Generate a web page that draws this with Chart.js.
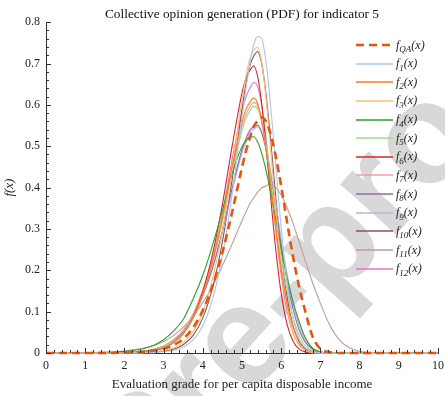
<!DOCTYPE html>
<html>
<head>
<meta charset="utf-8">
<script src="https://cdn.jsdelivr.net/npm/chart.js@4.4.0/dist/chart.umd.min.js"></script>
<style>
  html, body { margin: 0; padding: 0; background: #fff; }
  #wrap { position: relative; width: 445px; height: 396px; }
  #legend { position: absolute; left: 356px; top: 35.7px; font-family: 'Liberation Serif', 'Times New Roman', serif; font-style: italic; font-size: 12px; color: #222; }
  .row { height: 18.65px; display: flex; align-items: center; white-space: nowrap; }
  .row svg { margin-right: 3px; flex: none; }
  .row .sub { font-size: 9px; position: relative; top: 4px; }
</style>
</head>
<body>
<div id="wrap">
  <canvas id="chartPdf" width="445" height="396"></canvas>
  <div id="legend"></div>
</div>
<script>
// evaluation grades where the curves are sampled
var X = [0, 1, 1.5, 2, 2.5, 2.75, 3, 3.25, 3.5, 3.75, 4, 4.25, 4.5, 4.75, 5, 5.1, 5.2, 5.3, 5.4, 5.5, 5.6, 5.7, 5.85, 6, 6.15, 6.3, 6.45, 6.6, 6.8, 7, 7.25, 7.5, 7.75, 8, 8.5, 9, 10];

// density values
var fQA = [0,0,0,.001,.003,.006,.010,.019,.034,.061,.103,.163,.243,.341,.449,.488,.520,.548,.561,.570,.562,.539,.481,.403,.317,.234,.163,.106,.040,.010,.002,0,0,0,0,0,0];
var f1  = [0,0,0,0,.001,.001,.003,.006,.014,.031,.066,.131,.235,.385,.571,.639,.699,.746,.765,.761,.713,.629,.467,.302,.172,.085,.037,.014,.003,.001,0,0,0,0,0,0,0];
var f2  = [0,0,0,.001,.004,.007,.013,.025,.047,.083,.141,.221,.326,.452,.558,.589,.606,.617,.603,.563,.503,.429,.311,.204,.120,.064,.031,.013,.004,.001,0,0,0,0,0,0,0];
var f3  = [0,0,0,0,.001,.003,.006,.012,.025,.051,.099,.180,.295,.447,.613,.669,.712,.732,.740,.704,.629,.528,.361,.215,.111,.050,.019,.007,.001,0,0,0,0,0,0,0,0];
var f4  = [0,0,.001,.004,.011,.019,.032,.053,.081,.130,.188,.261,.345,.434,.499,.513,.522,.523,.510,.484,.447,.403,.329,.253,.183,.125,.078,.040,.012,.003,0,0,0,0,0,0,0];
var f5  = [0,0,0,.001,.004,.008,.016,.027,.049,.085,.141,.218,.318,.435,.538,.567,.585,.597,.590,.560,.511,.448,.341,.237,.151,.088,.045,.020,.005,.001,0,0,0,0,0,0,0];
var f6  = [0,0,0,.001,.004,.007,.012,.025,.047,.087,.149,.240,.359,.501,.629,.664,.683,.694,.668,.605,.514,.410,.260,.144,.069,.029,.010,.003,0,0,0,0,0,0,0,0,0];
var f7  = [0,0,0,.002,.005,.009,.017,.032,.055,.095,.154,.231,.333,.449,.549,.577,.595,.606,.598,.562,.504,.432,.313,.204,.119,.063,.030,.013,.003,.001,0,0,0,0,0,0,0];
var f8  = [0,0,0,.002,.005,.009,.017,.030,.051,.087,.139,.207,.296,.400,.492,.518,.539,.547,.551,.533,.497,.447,.355,.259,.174,.108,.058,.028,.009,.002,0,0,0,0,0,0,0];
var f9  = [0,0,0,.002,.005,.009,.017,.031,.052,.087,.138,.204,.290,.392,.483,.509,.532,.541,.547,.534,.503,.456,.370,.276,.191,.122,.068,.034,.011,.003,0,0,0,0,0,0,0];
var f10 = [0,0,0,0,.001,.002,.005,.009,.020,.042,.085,.158,.269,.420,.589,.650,.694,.718,.729,.701,.636,.546,.390,.246,.136,.066,.028,.011,.002,0,0,0,0,0,0,0,0];
var f11 = [0,.001,.002,.005,.012,.018,.028,.042,.062,.088,.122,.162,.211,.264,.320,.341,.361,.375,.389,.399,.403,.408,.401,.382,.352,.314,.271,.227,.170,.120,.065,.030,.012,.004,0,0,0];
var f12 = [0,0,0,.001,.004,.007,.013,.025,.047,.085,.143,.227,.336,.469,.586,.619,.640,.654,.644,.600,.530,.443,.307,.188,.102,.049,.021,.008,.002,0,0,0,0,0,0,0,0];

var seriesSubs = ['QA', '1', '2', '3', '4', '5', '6', '7', '8', '9', '10', '11', '12'];
var series = [fQA, f1, f2, f3, f4, f5, f6, f7, f8, f9, f10, f11, f12];

var lineColors = ['#e6550d', '#aec7e8', '#ff7f0e', '#ffbb78', '#2ca02c', '#98df8a', '#d62728',
    '#ff9896', '#9467bd', '#c5b0d5', '#8c564b', '#c49c94', '#e377c2'];

var serif = "'Liberation Serif', 'Times New Roman', serif";

var datasets = series.map(function (vals, i) {
    return {
        label: 'f' + seriesSubs[i] + '(x)',
        data: X.map(function (x, k) { return { x: x, y: vals[k] }; }),
        borderColor: lineColors[i],
        backgroundColor: lineColors[i],
        borderWidth: i === 0 ? 2.6 : 1.1,
        borderDash: i === 0 ? [8, 5] : [],
        pointRadius: 0,
        cubicInterpolationMode: 'monotone',
        fill: false,
        clip: false
    };
});

// grey "Journal Pre-proof" stamp behind the plot
var stamp = {
    id: 'stamp',
    beforeDraw: function (chart) {
        var ctx = chart.ctx;
        ctx.save();
        ctx.font = "bold 142px 'Liberation Sans', Arial, sans-serif";
        ctx.fillStyle = '#d8d8d8';
        ctx.translate(246, 346);
        ctx.rotate(-48 * Math.PI / 180);
        var pre = ctx.measureText('Journal Pr').width;
        var e = ctx.measureText('e').width;
        ctx.textBaseline = 'alphabetic';
        ctx.fillText('Journal Pre-proof', -pre - e / 2, 37);
        ctx.restore();
    }
};

// small inward tick marks on both axes
var insideTicks = {
    id: 'insideTicks',
    afterDraw: function (chart) {
        var ctx = chart.ctx, xs = chart.scales.x, ys = chart.scales.y, area = chart.chartArea;
        ctx.save();
        ctx.strokeStyle = '#333';
        ctx.lineWidth = 1;
        ctx.beginPath();
        for (var i = 0; i <= 50; i++) {
            var px = Math.round(xs.getPixelForValue(i / 5)) + 0.5;
            var len = i % 5 === 0 ? 5 : 3;
            ctx.moveTo(px, area.bottom);
            ctx.lineTo(px, area.bottom - len);
        }
        for (var j = 0; j <= 40; j++) {
            var py = Math.round(ys.getPixelForValue(j / 50)) + 0.5;
            var l2 = j % 5 === 0 ? 5 : 3;
            ctx.moveTo(area.left, py);
            ctx.lineTo(area.left + l2, py);
        }
        ctx.stroke();
        ctx.restore();
    }
};

var chart = new Chart(document.getElementById('chartPdf').getContext('2d'), {
    type: 'line',
    data: { datasets: datasets },
    plugins: [stamp, insideTicks],
    options: {
        responsive: false,
        animation: false,
        layout: { padding: { left: 0, right: 0, top: 0, bottom: 0 } },
        plugins: {
            legend: { display: false },
            tooltip: { enabled: false },
            title: {
                display: true,
                fullSize: false,
                text: 'Collective opinion generation (PDF) for indicator 5',
                color: '#111',
                font: { family: serif, size: 13.3, weight: 'normal' },
                padding: { top: 6.2, bottom: 0 }
            }
        },
        scales: {
            x: {
                type: 'linear',
                min: 0,
                max: 10,
                afterFit: function (s) {
                    s.height = 43;
                    s.paddingRight = 7;
                    s.paddingLeft = 4;
                },
                ticks: { stepSize: 1, padding: 6, color: '#222', font: { family: serif, size: 12 }, maxRotation: 0 },
                grid: { display: false, drawTicks: false },
                border: { display: true, color: '#333', width: 1 },
                title: {
                    display: true,
                    text: 'Evaluation grade for per capita disposable income',
                    color: '#222',
                    font: { family: serif, size: 13 },
                    padding: 4
                }
            },
            y: {
                min: 0,
                max: 0.8,
                afterFit: function (s) { s.width = 46; },
                ticks: {
                    stepSize: 0.1,
                    padding: 6,
                    color: '#222',
                    font: { family: serif, size: 12 },
                    callback: function (v) { return v === 0 ? '0' : v.toFixed(1); }
                },
                grid: { display: false, drawTicks: false },
                border: { display: true, color: '#333', width: 1 },
                title: {
                    display: true,
                    text: 'f(x)',
                    color: '#222',
                    font: { family: serif, size: 13, style: 'italic' },
                    padding: 2
                }
            }
        }
    }
});

// legend drawn as html so the subscripts stay real text
var legendBox = document.getElementById('legend');
chart.data.datasets.forEach(function (ds, i) {
    var row = document.createElement('div');
    row.className = 'row';
    var dash = i === 0 ? ' stroke-dasharray="8 5"' : '';
    row.innerHTML = '<svg width="37" height="6"><line x1="0" y1="3" x2="37" y2="3" stroke="' + ds.borderColor +
        '" stroke-width="' + (i === 0 ? 2.6 : 1.3) + '"' + dash + '/></svg>' +
        '<span>f</span><span class="sub">' + seriesSubs[i] + '</span><span>(x)</span>';
    legendBox.appendChild(row);
});
</script>
</body>
</html>
